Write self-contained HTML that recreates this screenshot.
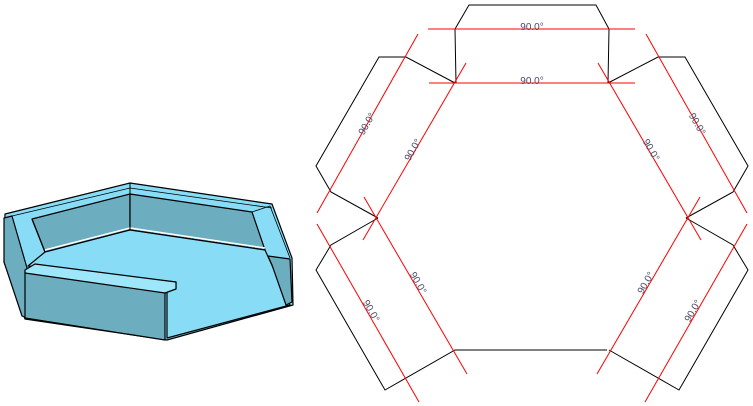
<!DOCTYPE html>
<html><head><meta charset="utf-8"><style>
html,body{margin:0;padding:0;background:#fff;width:753px;height:406px;overflow:hidden}
svg{display:block}
text{font-family:"Liberation Sans",sans-serif;font-size:10px;fill:#4a4a66}
</style></head><body>
<svg width="753" height="406" viewBox="0 0 753 406" xmlns="http://www.w3.org/2000/svg">
<!-- 3D part -->
<g stroke="#000" stroke-width="1.2" stroke-linejoin="round">
<polygon points="5,214 130,183 272,204 292,258 293,305 167,340 25,319 4,262" fill="#88dcf6"/>
<!-- left outer side -->
<polygon points="4,218 12,216 27,268 27,318 22,316 4,262" fill="#6cadc0"/>
<!-- back inner walls -->
<polygon points="32,219 130,194 130,230 45,252" fill="#6cadc0"/>
<polygon points="130,194 252,212 265,250 130,230" fill="#6cadc0"/>
<!-- floor -->
<polygon points="45,252 130,230 265,250 290,305 167,338 167,292 176,288 176,282 28,266" fill="#88dcf6"/>
<!-- front wall -->
<polygon points="25,272 165,292 165,340 25,318" fill="#6cadc0"/>
<!-- front flange top -->
<polygon points="25,270 35,264 176,282 176,289 165,293 25,273" fill="#9ee6fa"/>
<!-- right end -->
<polygon points="268,256 290,259 292,302 286,305 272,265" fill="#6cadc0"/>
<!-- rim lines -->
<polyline points="12,216 130,188 272,208" fill="none" stroke-width="0.8"/>
<polyline points="32,219 45,252" fill="none"/>
<polyline points="252,212 270,206 290,258" fill="none" stroke-width="0.8"/>
<polyline points="45,250 130,228 265,248" fill="none" stroke="#fff" stroke-width="1.5"/>
<line x1="130" y1="183" x2="130" y2="230" stroke-width="1"/>
</g>

<!-- flat pattern black outline -->
<g fill="none" stroke="#000" stroke-width="1">
<polyline points="456,83 455,29 469,5 596,5 609,29 608,83"/>
<polyline points="455,83 406,57 379,57 316,166 331,192 378,218"/>
<polyline points="378,218 331,245 316,270 385,390 455,350 607,350"/>
<polyline points="608,83 658,57 685,57 748,166 733,192 686,218"/>
<polyline points="686,218 733,245 748,270 679,390 609,350"/>
</g>

<!-- red bend lines -->
<g stroke="#ff0000" stroke-width="1">
<line x1="428" y1="29" x2="635" y2="29"/>
<line x1="429" y1="83" x2="635" y2="83"/>
<line x1="418" y1="34" x2="317" y2="213"/>
<line x1="466" y1="63" x2="363" y2="240"/>
<line x1="364" y1="197" x2="467" y2="374"/>
<line x1="317" y1="224" x2="419" y2="402"/>
<line x1="646" y1="34" x2="747" y2="213"/>
<line x1="598" y1="63" x2="701" y2="240"/>
<line x1="700" y1="197" x2="597" y2="374"/>
<line x1="747" y1="224" x2="645" y2="402"/>
</g>

<!-- labels -->
<g text-anchor="middle">
<text x="532" y="30">90.0°</text>
<text x="532" y="84">90.0°</text>
<text transform="translate(367,124) rotate(-60)" y="3">90.0°</text>
<text transform="translate(413,150) rotate(-60)" y="3">90.0°</text>
<text transform="translate(418,283) rotate(60)" y="3">90.0°</text>
<text transform="translate(371,311) rotate(60)" y="3">90.0°</text>
<text transform="translate(697,124) rotate(60)" y="3">90.0°</text>
<text transform="translate(651,150) rotate(60)" y="3">90.0°</text>
<text transform="translate(646,283) rotate(-60)" y="3">90.0°</text>
<text transform="translate(693,311) rotate(-60)" y="3">90.0°</text>
</g>
</svg>
</body></html>
